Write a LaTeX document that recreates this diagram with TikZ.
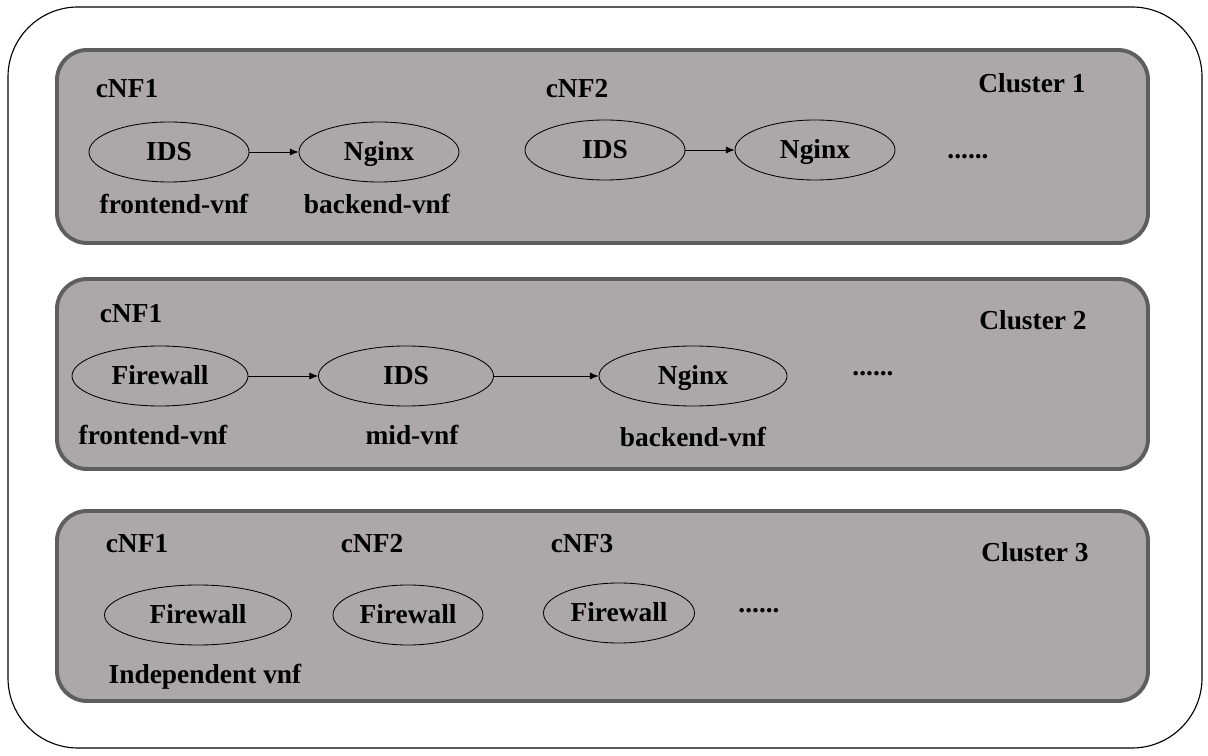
\documentclass[tikz,border=0pt]{standalone}
\usepackage{fontspec}
\setmainfont{Liberation Serif}
\usepackage{tikz}
\usetikzlibrary{shapes,arrows.meta}
\usepackage{xcolor}
\definecolor{clustergray}{HTML}{ACA8A9}
\definecolor{clusterborder}{HTML}{5E5E5E}

\begin{document}
\begin{tikzpicture}[font=\fontsize{19.5}{23}\selectfont\bfseries,
 vnf node/.style={ellipse, draw, line width=0.6pt, inner sep=0pt, minimum height=1.5cm, text height=12.7pt, text depth=0pt},
 label node/.style={anchor=base, inner sep=0pt},
 cluster box/.style={draw=clusterborder, fill=clustergray, line width=2.8pt, rounded corners=0.75cm},
 chain/.style={-{Latex[length=2.2mm,width=1.8mm]}, line width=0.6pt}]
\useasboundingbox (0,0) rectangle (30.2,18.875);
\draw[line width=0.8pt, rounded corners=1.75cm] (0.2,0.175) rectangle (30.05,18.7);
\draw[cluster box] (1.425,12.8) rectangle (28.7,17.625);
\draw[cluster box] (1.425,7.15) rectangle (28.7,11.9);
\draw[cluster box] (1.425,1.35) rectangle (28.7,6.1);
% cluster 1
\node[label node] (c1) at (25.8,16.55) {Cluster 1};
\node[label node] (c1cnf1) at (3.175,16.425) {cNF1};
\node[label node] (c1cnf2) at (14.425,16.425) {cNF2};
\node[vnf node, minimum width=4cm] (c1ids) at (4.225,15.075) {IDS};
\node[vnf node, minimum width=4cm] (c1nginx) at (9.475,15.075) {Nginx};
\node[vnf node, minimum width=4cm] (c1ids2) at (15.125,15.125) {IDS};
\node[vnf node, minimum width=4cm] (c1nginx2) at (20.375,15.125) {Nginx};
\node[label node] (c1front) at (4.35,13.525) {frontend-vnf};
\node[label node] (c1back) at (9.425,13.525) {backend-vnf};
\node[label node] (c1dots) at (24.2,14.9) {......};
\path[chain]
(c1ids) edge (c1nginx)
(c1ids2) edge (c1nginx2);
% cluster 2
\node[label node] (c2) at (25.825,10.625) {Cluster 2};
\node[label node] (c2cnf1) at (3.275,10.8) {cNF1};
\node[vnf node, minimum width=4.4cm] (c2fw) at (4.0,9.475) {Firewall};
\node[vnf node, minimum width=4.375cm] (c2ids) at (10.15,9.475) {IDS};
\node[vnf node, minimum width=4.7cm] (c2nginx) at (17.325,9.475) {Nginx};
\node[label node] (c2front) at (3.825,7.75) {frontend-vnf};
\node[label node] (c2mid) at (10.3,7.75) {mid-vnf};
\node[label node] (c2back) at (17.325,7.7) {backend-vnf};
\node[label node] (c2dots) at (21.825,9.475) {......};
\path[chain]
(c2fw) edge (c2ids)
(c2ids) edge (c2nginx);
% cluster 3
\node[label node] (c3) at (25.875,4.85) {Cluster 3};
\node[label node] (c3cnf1) at (3.425,5.075) {cNF1};
\node[label node] (c3cnf2) at (9.3,5.075) {cNF2};
\node[label node] (c3cnf3) at (14.55,5.075) {cNF3};
\node[vnf node, minimum width=4.675cm] (c3fw1) at (4.95,3.5) {Firewall};
\node[vnf node, minimum width=3.75cm] (c3fw2) at (10.2,3.5) {Firewall};
\node[vnf node, minimum width=3.775cm] (c3fw3) at (15.475,3.55) {Firewall};
\node[label node] (c3indep) at (5.125,1.8) {Independent vnf};
\node[label node] (c3dots) at (18.975,3.575) {......};
\end{tikzpicture}
\end{document}
